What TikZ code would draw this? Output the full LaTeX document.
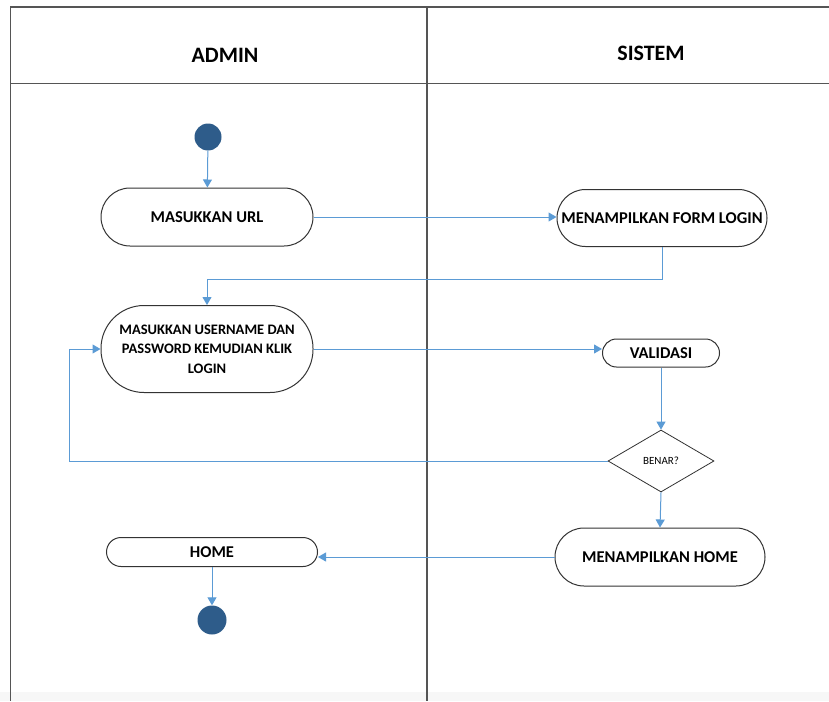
\documentclass[tikz,border=0pt]{standalone}
\usepackage{fontspec}
\setmainfont{Carlito}
\usetikzlibrary{arrows.meta,shapes.geometric}
\definecolor{flowblue}{HTML}{5B9BD5}
\definecolor{dotblue}{HTML}{2E5C8A}
\definecolor{framegray}{HTML}{555555}
\tikzset{
  lane/.style={draw=framegray, line width=1.4pt},
  actbox/.style={draw=black!80, line width=1pt, fill=white, rounded corners=#1, align=center, inner sep=2pt, font=\bfseries\fontsize{16.5}{19}\selectfont},
  arr/.style={draw=flowblue, line width=1pt, -{Triangle[length=8pt,width=9pt]}},
  dot/.style={circle, fill=dotblue, draw=none, minimum size=27pt, inner sep=0pt},
  head/.style={font=\bfseries\fontsize{22}{26}\selectfont}
}
\begin{document}
\begin{tikzpicture}[x=1pt,y=-1pt]
\useasboundingbox (0,0) rectangle (829,701);
\fill[white] (0,0) rectangle (829,701);
\fill[black!3] (0,692) rectangle (829,701);
% swimlane frame
\draw[lane] (829,7) -- (10.5,7) -- (10.5,701);
\draw[lane] (10.5,83.5) -- (829,83.5);
\draw[lane] (427,7) -- (427,701);
\node[head] (hadmin) at (225,55) {ADMIN};
\node[head] (hsistem) at (651,53) {SISTEM};
% nodes
\node[dot] (start) at (208,137) {};
\node[actbox=29pt, minimum width=212pt, minimum height=58pt] (url) at (207,217) {MASUKKAN URL};
\node[actbox=28.5pt, minimum width=210pt, minimum height=57pt] (form) at (662,218) {MENAMPILKAN FORM LOGIN};
\node[actbox=43pt, minimum width=212pt, minimum height=87pt, font=\bfseries\fontsize{14.5}{19.5}\selectfont] (user) at (207,349) {MASUKKAN USERNAME DAN\\PASSWORD KEMUDIAN KLIK\\LOGIN};
\node[actbox=14pt, minimum width=117pt, minimum height=28pt] (valid) at (661,353) {VALIDASI};
\node[diamond, draw=black!80, line width=0.8pt, fill=white, minimum width=106pt, minimum height=62pt, inner sep=0pt, font=\fontsize{11}{13}\selectfont] (dia) at (661,461) {BENAR?};
\node[actbox=29pt, minimum width=210pt, minimum height=58pt] (mhome) at (660,557) {MENAMPILKAN HOME};
\node[actbox=14.5pt, minimum width=211pt, minimum height=29pt] (home) at (212,552) {HOME};
\node[dot, minimum size=29pt] (end) at (212,620) {};
\coordinate (loop) at (69,461);
% connectors
\draw[arr] (start) -- (url);
\draw[arr] (url.east) -- (url.east -| form.west);
\draw[arr] (form.south) -- ++(0,32) -| (user.north);
\draw[arr] (user.east) -- (user.east -| valid.west);
\draw[arr] (valid.south) -- (dia.north);
\draw[arr] (dia.west) -- (loop) |- (user.west);
\draw[arr] (dia.south) -- (mhome.north);
\draw[arr] (mhome.west) -- (mhome.west -| home.east);
\draw[arr] (home.south) -- (end.north);
\end{tikzpicture}
\end{document}
